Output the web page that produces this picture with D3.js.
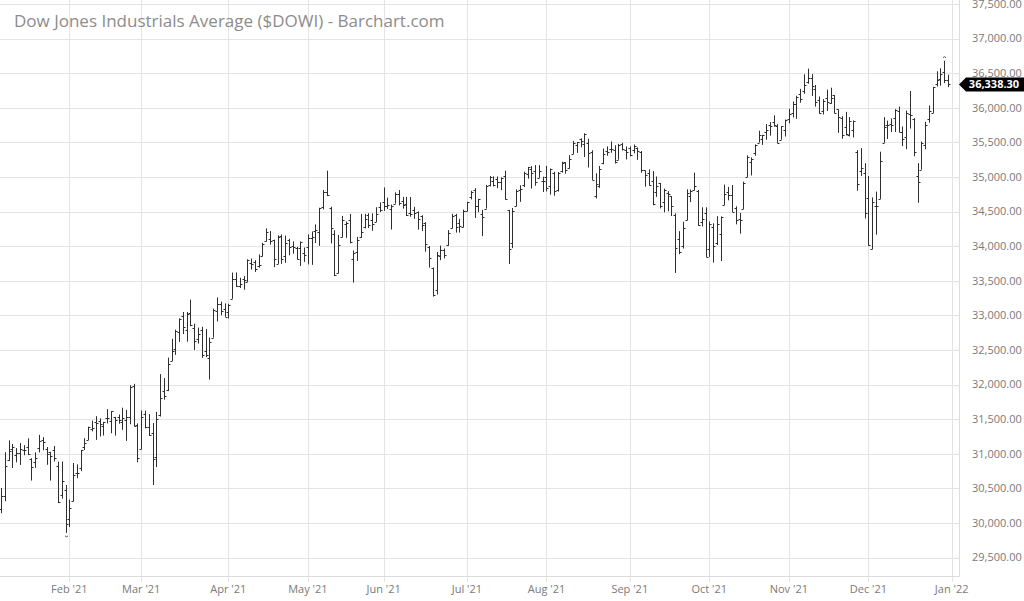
<!DOCTYPE html>
<html><head><meta charset="utf-8"><title>$DOWI daily bars 2021</title>
<script src="https://cdn.jsdelivr.net/npm/d3@7"></script>
<style>
	body { margin:0; background:#fff; }
	svg  { display:block; font-family:"Open Sans", sans-serif; }
</style>
</head><body>
<svg id="chart" width="1024" height="601"></svg>
<script>
// month gridlines sit on the first trading day of the month (index into the bars)
var monthIdx    = [19, 38, 61, 82, 102, 124, 145, 167, 188, 209, 230, 252];
var monthLabels = ["Feb '21","Mar '21","Apr '21","May '21","Jun '21","Jul '21",
                   "Aug '21","Sep '21","Oct '21","Nov '21","Dec '21","Jan '22"];
var yTicks = [29500,30000,30500,31000,31500,32000,32500,33000,33500,
              34000,34500,35000,35500,36000,36500,37000,37500];

// daily bars, Jan 4 2021 .. Dec 31 2021 (one row per month)
var opens = [
 30627,30204,30394,30904,31070,30982,31016,31048,31103,30926,30881,31079,31201,31066,31023,31056,30828,30409,30470,
 30055,30313,30720,30790,31090,31197,31363,31458,31466,31399,31513,31467,31532,31526,31457,31481,31536,31983,31415,
 31066,31576,31388,31295,30953,31558,31905,31921,32341,32512,32755,32992,32790,33041,32818,32653,32795,32489,32389,32677,33065,33159,33098,
 33055,33239,33520,33421,33528,33482,33751,33769,33715,33852,34068,34100,34083,33747,34145,33853,34092,34005,33980,33978,33903,
 33982,34116,34225,34199,34560,34786,34552,34178,33609,34127,34320,34382,33820,33913,34136,34270,34450,34373,34350,34559,
 34635,34587,34533,34614,34752,34656,34610,34485,34522,34500,34435,34336,33988,33690,33372,33862,33940,34019,34256,34456,34331,34272,
 34507,34710,34817,34582,34470,34542,34891,34942,34969,34926,35019,34523,34052,34576,34809,34878,35039,35117,35084,34988,34935,
 35004,34871,35063,34807,35090,35214,35129,35332,35465,35553,35470,35489,35358,34719,34874,35209,35376,35411,35389,35250,35480,35395,
 35425,35385,35418,35354,35095,35056,34947,34785,34906,34637,34775,34723,34454,34102,33998,34374,34731,34806,34795,34342,34478,
 33955,34271,34043,34177,34593,34786,34737,34550,34390,34537,35000,35219,35345,35497,35548,35644,35745,35796,35738,35538,35685,
 35833,35919,36050,36206,36247,36371,36432,36277,36106,35949,36137,36064,36183,35977,35849,35726,35603,35686,35368,35087,35059,
 34695,33959,34581,34683,35493,35748,35772,35850,35958,35656,35577,35904,35840,35017,35106,35460,35838,35926,36346,36421,36513,36399
];
var highs = [
 30674,30504,31022,31193,31141,31081,31154,31123,31223,30934,31019,31272,31239,31097,31028,31111,30885,30887,30548,
 30336,30866,30846,31056,31224,31391,31478,31543,31511,31460,31644,31615,31532,31567,31665,31633,31990,32010,31438,
 31625,31623,31572,31444,31604,32150,32093,32389,32661,32793,32957,33048,33047,33227,32880,32823,32835,32803,32679,33098,33259,33198,33173,
 33167,33618,33620,33543,33568,33810,33821,33797,33880,34049,34257,34218,34094,34158,34169,34153,34107,34069,33990,34068,33980,
 34170,34212,34314,34555,34811,35092,34570,34230,34163,34437,34358,34465,33937,34134,34466,34467,34476,34475,34563,34632,
 34849,34701,34601,34778,34811,34713,34712,34710,34568,34502,34446,34347,34002,33690,33917,34009,33966,34232,34467,34466,34395,34528,
 34641,34800,34838,34684,34525,34885,35013,35008,35007,34993,35091,34523,34552,34821,34879,35077,35145,35157,35172,35171,35004,
 35161,35122,35075,35071,35221,35214,35315,35521,35505,35558,35631,35552,35386,35053,35159,35412,35442,35512,35458,35478,35493,35441,
 35441,35469,35427,35375,35095,35109,35085,35007,34912,34832,34795,34723,34473,34217,34352,34822,34819,35062,34811,34562,34562,
 34357,34331,34433,34429,34889,34857,34883,34576,34481,34932,35313,35282,35470,35669,35609,35765,35792,35892,35764,35735,35830,
 35985,36091,36175,36273,36484,36566,36487,36330,36163,36125,36262,36290,36183,35977,35878,35941,35866,35816,35388,35417,35200,
 35014,34704,34788,35365,35864,35814,35846,35980,36017,35729,35960,36242,35850,35200,35512,35797,36033,36302,36528,36571,36680,36479
];
var lows = [
 29881,30141,30313,30897,30793,30876,30838,30978,30980,30612,30796,31019,31051,30840,30612,30888,30286,30351,29856,
 29941,30313,30646,30748,31053,31197,31323,31200,31249,31263,31438,31296,31262,31434,31346,31186,31426,31397,30877,
 31066,31366,31258,30548,30807,31538,31781,31905,32341,32429,32616,32730,32620,32845,32500,32592,32384,32396,32072,32677,32912,33002,32979,
 32955,33239,33409,33396,33370,33482,33661,33627,33690,33852,34068,34022,33696,33743,33744,33760,33868,33891,33809,33714,33773,
 33736,33730,34046,34004,34531,34724,34040,33569,33609,34127,34121,34041,33474,33786,34119,34257,34263,34223,34350,34493,
 34509,34537,34240,34614,34588,34542,34437,34425,34395,34239,34219,33920,33691,33271,33301,33797,33823,34007,34256,34196,34197,34272,
 34507,34675,34408,34492,34145,34542,34863,34864,34838,34809,34672,33741,33971,34576,34641,34855,34975,34832,34873,34988,34782,
 34791,34745,34729,34789,35063,35048,35120,35332,35348,35429,35289,35137,34957,34690,34844,35184,35306,35350,35195,35250,35383,35253,
 35299,35341,35248,35060,34860,34876,34591,34712,34546,34489,34504,34435,33613,33884,33966,34374,34637,34806,34295,34286,33843,
 33845,33762,34015,33785,34593,34662,34495,34315,34180,34537,35000,35022,35307,35497,35463,35538,35598,35728,35487,35538,35584,
 35776,35860,35841,36074,36202,36348,36171,36016,35914,35904,35955,36059,35920,35638,35552,35601,35585,35571,34800,35016,34400,
 34006,33959,34167,34683,35493,35549,35649,35650,35648,35445,35402,35700,35300,34627,35106,35400,35784,35926,36307,36320,36356,36298
];
var closes = [
 30224,30392,30829,31041,31098,31009,31069,31060,30992,30814,30931,31188,31176,30997,30960,30937,30303,30603,29983,
 30212,30687,30724,31056,31148,31386,31376,31438,31431,31458,31523,31613,31493,31494,31522,31537,31962,31402,30932,
 31536,31392,31270,30924,31496,31802,31833,32297,32486,32779,32953,32826,33015,32862,32628,32731,32423,32420,32619,33073,33171,33067,32982,
 33153,33527,33430,33446,33504,33801,33745,33677,33731,34036,34201,34078,33821,34137,33816,34043,33982,33985,33820,34060,33875,
 34113,34133,34230,34549,34778,34743,34269,33588,34021,34382,34328,34061,33896,34084,34208,34394,34313,34323,34465,34529,
 34575,34600,34577,34756,34630,34600,34447,34466,34480,34394,34299,34034,33823,33290,33877,33946,33874,34197,34434,34283,34292,34503,
 34634,34786,34577,34682,34422,34870,34996,34889,34933,34987,34688,33962,34512,34798,34823,35062,35144,35059,34931,35085,34935,
 34838,35116,34793,35064,35209,35102,35265,35485,35500,35515,35625,35343,34961,34894,35120,35336,35366,35406,35213,35456,35400,35361,
 35313,35444,35369,35100,35031,34879,34608,34870,34578,34814,34751,34585,33970,33920,34258,34765,34798,34869,34300,34391,33844,
 34326,34003,34315,34417,34755,34746,34496,34378,34378,34913,35295,35259,35457,35609,35603,35677,35741,35757,35491,35730,35820,
 35914,36053,36158,36124,36328,36432,36320,36080,35921,36100,36087,36142,35931,35871,35602,35619,35814,35804,34899,35136,34484,
 34022,34640,34580,35227,35719,35754,35755,35971,35651,35544,35927,35898,35365,34932,35493,35754,35951,36302,36398,36489,36398,36338.30
];

var W = 1024, H = 601, plotR = 959, plotB = 576;
var svg = d3.select('#chart');
var bars = opens.map(function(o,i){ return {i:i, o:o, h:highs[i], l:lows[i], c:closes[i]}; });

var x = d3.scaleLinear().domain([0, 252]).range([-2.66, 951.7]);
var y = d3.scaleLinear().domain([29500, 37500]).range([557.5, 4]);
var px = function(v){ return Math.round(v) + 0.5; };

// grid
var grid = svg.append('g').attr('stroke', '#e4e4e4').attr('stroke-width', 1);
grid.selectAll('line.h').data(yTicks).join('line').attr('class','h')
	.attr('x1', 0).attr('x2', plotR).attr('y1', function(d){ return px(y(d)); }).attr('y2', function(d){ return px(y(d)); });
grid.selectAll('line.v').data(monthIdx).join('line').attr('class','v')
	.attr('y1', 0).attr('y2', plotB + 6).attr('x1', function(d){ return px(x(d)); }).attr('x2', function(d){ return px(x(d)); });
svg.append('line').attr('x1', 0).attr('x2', plotR + 0.5).attr('y1', plotB + 0.5).attr('y2', plotB + 0.5).attr('stroke', '#dcdcdc');
svg.append('line').attr('x1', plotR + 0.5).attr('x2', plotR + 0.5).attr('y1', 0).attr('y2', plotB + 0.5).attr('stroke', '#dcdcdc');

// title
svg.append('text').attr('x', 14).attr('y', 27).attr('font-size', 17).attr('fill', '#8c8c8c')
	.text('Dow Jones Industrials Average ($DOWI) - Barchart.com');

// y axis labels
svg.append('g').selectAll('text').data(yTicks).join('text')
	.attr('x', 972).attr('y', function(d){ return y(d); }).attr('dy', '0.35em')
	.attr('font-size', 11).attr('fill', '#7a7a7a')
	.text(d3.format(',.2f'));

// x axis labels
svg.append('g').selectAll('text').data(monthIdx).join('text')
	.attr('x', function(d){ return x(d); }).attr('y', 593).attr('text-anchor', 'middle')
	.attr('font-size', 11).attr('fill', '#7a7a7a')
	.text(function(d,i){ return monthLabels[i]; });

// OHLC bars
var g = svg.append('g').attr('stroke', '#2e2e2e').attr('stroke-width', 1).attr('fill', 'none');
g.selectAll('path').data(bars).join('path')
	.attr('d', function(d){
		var cx = px(x(d.i));
		return 'M' + cx + ',' + y(d.h) + 'V' + y(d.l) +
			'M' + (cx - 2) + ',' + px(y(d.o)) + 'H' + cx +
			'M' + cx + ',' + px(y(d.c)) + 'H' + (cx + 2);
	});

// period high / low markers
var hi = bars[d3.maxIndex(highs)], lo = bars[d3.minIndex(lows)];
svg.append('path').attr('fill', 'none').attr('stroke', '#555').attr('stroke-width', 1)
	.attr('d', 'M' + (px(x(hi.i)) - 1.5) + ',' + (y(hi.h) - 3) + 'q1.5,-2 3,0' +
		'M' + (px(x(lo.i)) - 1.5) + ',' + (y(lo.l) + 3) + 'q1.5,2 3,0');

// last price tag
var last = closes[closes.length - 1], ly = y(last);
svg.append('path').attr('fill', '#000')
	.attr('d', 'M959,' + ly + 'L966,' + (ly - 7) + 'H1024V' + (ly + 7) + 'H966Z');
svg.append('text').attr('x', 994).attr('y', ly).attr('dy', '0.35em').attr('text-anchor', 'middle')
	.attr('font-size', 11).attr('font-weight', 'bold').attr('fill', '#fff')
	.text(d3.format(',.2f')(last));
</script>
</body></html>
